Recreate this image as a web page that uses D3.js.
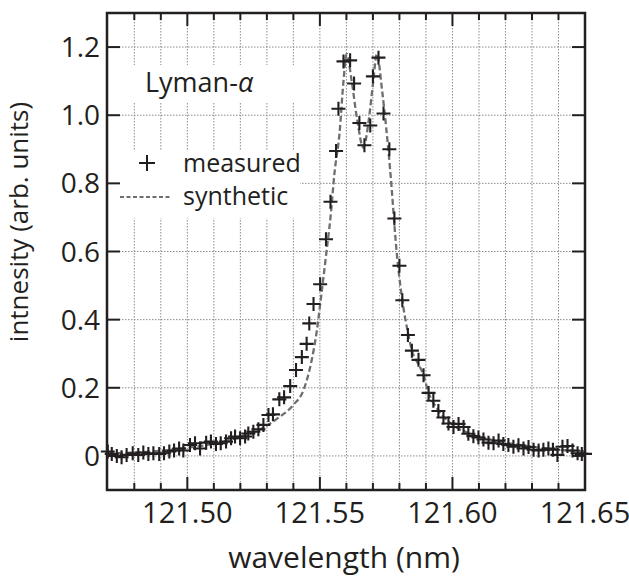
<!DOCTYPE html>
<html>
<head>
<meta charset="utf-8">
<script src="https://cdn.jsdelivr.net/npm/d3@7/dist/d3.min.js"></script>
<style>
body { margin: 0; background: #fff; }
text { font-family: "Open Sans", sans-serif; fill: #231f20; }
</style>
</head>
<body>
<div id="chart"></div>
<script>
// measured spectrum (wavelength in nm, intensity arb. units)
var measuredWl = [121.4700, 121.4715, 121.4734, 121.4752, 121.4771, 121.4794, 121.4815, 121.4834,
    121.4853, 121.4872, 121.4894, 121.4912, 121.4932, 121.4950, 121.4969, 121.4985, 121.5010,
    121.5029, 121.5048, 121.5071, 121.5089, 121.5108, 121.5126, 121.5146, 121.5165, 121.5180,
    121.5199, 121.5218, 121.5230, 121.5249, 121.5268, 121.5287, 121.5306, 121.5323, 121.5347,
    121.5365, 121.5388, 121.5410, 121.5432, 121.5450, 121.5460, 121.5476, 121.5501, 121.5523,
    121.5540, 121.5561, 121.5570, 121.5589, 121.5614, 121.5629, 121.5649, 121.5668, 121.5690,
    121.5700, 121.5721, 121.5740, 121.5762, 121.5781, 121.5800, 121.5811, 121.5832, 121.5847,
    121.5872, 121.5891, 121.5910, 121.5928, 121.5947, 121.5966, 121.5985, 121.6004, 121.6023,
    121.6042, 121.6060, 121.6079, 121.6098, 121.6117, 121.6136, 121.6155, 121.6174, 121.6192,
    121.6211, 121.6230, 121.6249, 121.6268, 121.6287, 121.6306, 121.6325, 121.6343, 121.6362,
    121.6379, 121.6396, 121.6415, 121.6434, 121.6453, 121.6472, 121.6488, 121.6500];
var measuredInt = [0.013, 0.006, 0.000, -0.004, 0.003, 0.008, 0.003, 0.010,
    0.006, 0.008, 0.006, 0.008, 0.013, 0.016, 0.022, 0.016, 0.032,
    0.037, 0.022, 0.039, 0.042, 0.035, 0.037, 0.042, 0.052, 0.057,
    0.052, 0.057, 0.066, 0.071, 0.078, 0.091, 0.120, 0.122, 0.166,
    0.172, 0.205, 0.252, 0.290, 0.329, 0.389, 0.446, 0.504, 0.636,
    0.746, 0.895, 1.019, 1.158, 1.161, 1.093, 0.977, 0.912, 0.970,
    1.114, 1.169, 1.005, 0.900, 0.697, 0.558, 0.457, 0.355, 0.309,
    0.282, 0.237, 0.185, 0.162, 0.132, 0.113, 0.095, 0.085, 0.094,
    0.085, 0.065, 0.058, 0.054, 0.048, 0.039, 0.037, 0.045, 0.035,
    0.032, 0.027, 0.031, 0.022, 0.026, 0.018, 0.016, 0.018, 0.022,
    0.018, 0.003, 0.027, 0.029, 0.016, 0.008, 0.006, 0.006];

// synthetic profile
var synthWl = [121.4700, 121.4800, 121.4900, 121.5000, 121.5100, 121.5180, 121.5270, 121.5340,
    121.5400, 121.5438, 121.5469, 121.5488, 121.5505, 121.5525, 121.5540, 121.5555, 121.5574,
    121.5589, 121.5601, 121.5620, 121.5640, 121.5664, 121.5685, 121.5700, 121.5715, 121.5735,
    121.5765, 121.5790, 121.5809, 121.5834, 121.5847, 121.5871, 121.5891, 121.5908, 121.5946,
    121.6003, 121.6067, 121.6180, 121.6293, 121.6406, 121.6500];
var synthInt = [0.008, 0.010, 0.015, 0.024, 0.036, 0.052, 0.076, 0.110,
    0.150, 0.193, 0.281, 0.365, 0.470, 0.600, 0.700, 0.830, 0.946,
    1.100, 1.180, 1.100, 0.990, 0.905, 0.990, 1.090, 1.180, 1.070,
    0.840, 0.595, 0.467, 0.355, 0.309, 0.270, 0.237, 0.190, 0.135,
    0.090, 0.065, 0.042, 0.028, 0.018, 0.013];

var xMajorTicks = [121.50, 121.55, 121.60, 121.65];
var xMajorLabels = ["121.50", "121.55", "121.60", "121.65"];
var xGridTicks = [121.48, 121.49, 121.50, 121.51, 121.52, 121.53, 121.54, 121.55, 121.56,
    121.57, 121.58, 121.59, 121.60, 121.61, 121.62, 121.63, 121.64];
var yTicks = [0, 0.2, 0.4, 0.6, 0.8, 1.0, 1.2];
var yTickLabels = ["0", "0.2", "0.4", "0.6", "0.8", "1.0", "1.2"];

var margin = {top: 13, right: 44, bottom: 89, left: 107},
    width = 629 - margin.left - margin.right,
    height = 579 - margin.top - margin.bottom;

var x = d3.scaleLinear().domain([121.4697, 121.65]).range([0, width]);
var y = d3.scaleLinear().domain([-0.1, 1.3]).range([height, 0]);

var svg = d3.select("#chart").append("svg")
    .attr("width", 629)
    .attr("height", 579);
svg.append("rect").attr("width", 629).attr("height", 579).attr("fill", "#fff");

var g = svg.append("g")
    .attr("transform", "translate(" + margin.left + "," + margin.top + ")");

// dotted grid
g.selectAll(".vgrid").data(xGridTicks).enter().append("line")
    .attr("class", "vgrid")
    .attr("x1", function(d) { return x(d); }).attr("x2", function(d) { return x(d); })
    .attr("y1", 0).attr("y2", height)
    .attr("stroke", "#8a8a8a").attr("stroke-width", 1).attr("stroke-dasharray", "1.5,1.5");
g.selectAll(".hgrid").data(yTicks).enter().append("line")
    .attr("class", "hgrid")
    .attr("x1", 0).attr("x2", width)
    .attr("y1", function(d) { return y(d); }).attr("y2", function(d) { return y(d); })
    .attr("stroke", "#8a8a8a").attr("stroke-width", 1).attr("stroke-dasharray", "1.5,1.5");

// white boxes behind the labels
g.append("rect").attr("x", 1).attr("y", 52).attr("width", 192).attr("height", 38).attr("fill", "#fff");
g.append("rect").attr("x", 1).attr("y", 137).attr("width", 192).attr("height", 68).attr("fill", "#fff");

// synthetic curve
var line = d3.line()
    .x(function(d, i) { return x(synthWl[i]); })
    .y(function(d) { return y(d); })
    .curve(d3.curveMonotoneX);
g.append("path")
    .attr("d", line(synthInt))
    .attr("fill", "none")
    .attr("stroke", "#6e6e6e")
    .attr("stroke-width", 2.3)
    .attr("stroke-dasharray", "6,3");

// measured points
var cross = "M-7,0H7M0,-7V7";
g.selectAll(".pt").data(measuredInt).enter().append("path")
    .attr("class", "pt")
    .attr("transform", function(d, i) { return "translate(" + x(measuredWl[i]) + "," + y(d) + ")"; })
    .attr("d", cross)
    .attr("fill", "none")
    .attr("stroke", "#231f20")
    .attr("stroke-width", 2.1);

// frame
g.append("rect").attr("width", width).attr("height", height)
    .attr("fill", "none").attr("stroke", "#231f20").attr("stroke-width", 2.5);

// x ticks, top and bottom, inward
g.selectAll(".xt").data(xGridTicks).enter().append("g")
    .attr("class", "xt")
    .each(function(d) {
        var len = xMajorTicks.indexOf(d) >= 0 ? 13 : 7;
        var s = d3.select(this);
        s.append("line").attr("x1", x(d)).attr("x2", x(d)).attr("y1", height).attr("y2", height - len)
            .attr("stroke", "#231f20").attr("stroke-width", 2);
        s.append("line").attr("x1", x(d)).attr("x2", x(d)).attr("y1", 0).attr("y2", len)
            .attr("stroke", "#231f20").attr("stroke-width", 2);
    });

// y ticks, left and right
g.selectAll(".ytl").data(yTicks).enter().append("line")
    .attr("x1", 0).attr("x2", 13)
    .attr("y1", function(d) { return y(d); }).attr("y2", function(d) { return y(d); })
    .attr("stroke", "#231f20").attr("stroke-width", 2);
g.selectAll(".ytr").data(yTicks).enter().append("line")
    .attr("x1", width).attr("x2", width - 13)
    .attr("y1", function(d) { return y(d); }).attr("y2", function(d) { return y(d); })
    .attr("stroke", "#231f20").attr("stroke-width", 2);

// tick labels
g.selectAll(".xl").data(xMajorTicks).enter().append("text")
    .attr("x", function(d) { return x(d); })
    .attr("y", height + 33)
    .attr("text-anchor", "middle")
    .style("font-size", "29px")
    .text(function(d, i) { return xMajorLabels[i]; });
g.selectAll(".yl").data(yTicks).enter().append("text")
    .attr("x", -7)
    .attr("y", function(d) { return y(d); })
    .attr("dy", "0.36em")
    .attr("text-anchor", "end")
    .style("font-size", "28px")
    .text(function(d, i) { return yTickLabels[i]; });

// axis titles
svg.append("text")
    .attr("x", 344).attr("y", 568)
    .attr("text-anchor", "middle")
    .style("font-size", "30px")
    .text("wavelength (nm)");
svg.append("text")
    .attr("transform", "translate(28,222) rotate(-90)")
    .attr("text-anchor", "middle")
    .style("font-size", "26px")
    .text("intnesity (arb. units)");

// Lyman-alpha label
var lab = g.append("text").attr("x", 38).attr("y", 79).style("font-size", "27px");
lab.append("tspan").text("Lyman-");
lab.append("tspan").style("font-style", "italic").text("\u03b1");

// legend
g.append("path").attr("transform", "translate(40,150)")
    .attr("d", "M-8,0H8M0,-8V8")
    .attr("stroke", "#231f20").attr("stroke-width", 2);
g.append("text").attr("x", 76).attr("y", 159).style("font-size", "25px").text("measured");
g.append("line").attr("x1", 13).attr("x2", 65).attr("y1", 184).attr("y2", 184)
    .attr("stroke", "#6e6e6e").attr("stroke-width", 1.8).attr("stroke-dasharray", "4,2.5");
g.append("text").attr("x", 76).attr("y", 192).style("font-size", "25px").text("synthetic");
</script>
</body>
</html>
